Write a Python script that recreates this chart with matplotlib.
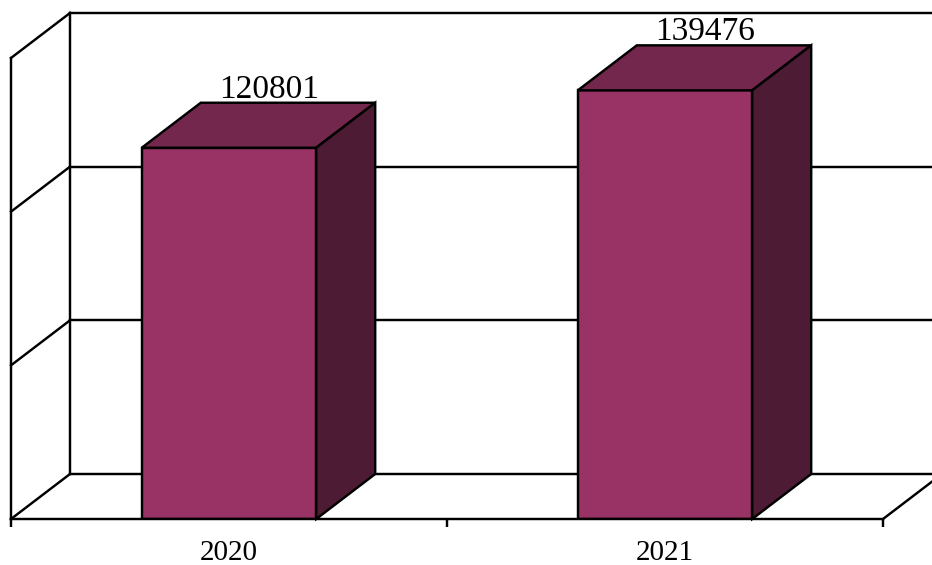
import matplotlib
matplotlib.use('Agg')
from matplotlib import pyplot as plt
from matplotlib.patches import Polygon

# data
years = ['2020', '2021']
counts = [120801, 139476]
grid_levels = [0, 50000, 100000, 150000]

FRONT = '#993366'
TOP = '#73274d'
SIDE = '#4d1b34'
LW = 1.75

W, H, DPI = 932, 565, 100
fig = plt.figure(figsize=(W / DPI, H / DPI), dpi=DPI)
ax = fig.add_axes([11 / W, 46 / H, 872 / W, 461 / H])
ax.set_xlim(-0.5, 1.5)
ax.set_ylim(0, grid_levels[-1])

# depth of the fake 3d box: pixels -> data units
fig.canvas.draw()
bb = ax.get_window_extent()
px_x = bb.width / 2.0
px_y = bb.height / grid_levels[-1]
dx = 59 / px_x
dy = 45 / px_y

x0, x1 = -0.5, 1.5
line = dict(color='black', lw=LW, clip_on=False, zorder=1, solid_capstyle='projecting')

# back wall + floor back edge
for g in grid_levels:
    ax.plot([x0 + dx, x1 + dx + 0.2], [g + dy, g + dy], **line)
    # left wall diagonals
    ax.plot([x0, x0 + dx], [g, g + dy], **line)
ax.plot([x0 + dx, x0 + dx], [dy, grid_levels[-1] + dy], **line)
# floor right edge
ax.plot([x1, x1 + dx], [0, dy], **line)

# bars
bw = 0.4
xs = list(range(len(counts)))
ax.bar(xs, counts, width=bw, color=FRONT, edgecolor='black', lw=LW, zorder=3)
for xi, v in zip(xs, counts):
    l, r = xi - bw / 2, xi + bw / 2
    top = Polygon([(l, v), (r, v), (r + dx, v + dy), (l + dx, v + dy)],
                  closed=True, fc=TOP, ec='black', lw=LW, zorder=3, clip_on=False)
    side = Polygon([(r, 0), (r + dx, dy), (r + dx, v + dy), (r, v)],
                   closed=True, fc=SIDE, ec='black', lw=LW, zorder=3, clip_on=False)
    ax.add_patch(top)
    ax.add_patch(side)
    ax.annotate(str(v), xy=(xi, v + dy), xytext=(28.8, 3.6), textcoords='offset points',
                ha='center', va='baseline', fontsize=24, family=['Liberation Serif'],
                annotation_clip=False)

# axes
for s in ['top', 'right']:
    ax.spines[s].set_visible(False)
for s in ['bottom', 'left']:
    ax.spines[s].set_linewidth(LW)
    ax.spines[s].set_zorder(4)
ax.set_yticks([])
ax.set_xticks([-0.5, 0.5, 1.5])
ax.set_xticklabels([])
ax.tick_params(axis='x', which='major', direction='out', length=6, width=LW)
ax.set_xticks(xs, years, minor=True)
ax.tick_params(axis='x', which='minor', length=0, pad=15, labelsize=21)
for t in ax.get_xticklabels(minor=True):
    t.set_family(['Liberation Serif'])
ax.patch.set_visible(False)

fig.savefig('out.png', dpi=DPI)
